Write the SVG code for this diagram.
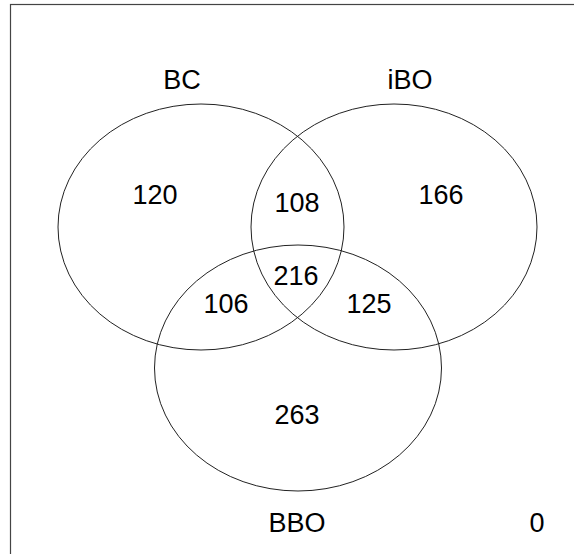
<svg xmlns="http://www.w3.org/2000/svg" width="574" height="554" viewBox="0 0 574 554">
<style>
.set{fill:none;stroke:#222;stroke-width:1}
.t{font-family:"Liberation Sans",Arial,sans-serif;font-size:27px;fill:#000;text-anchor:middle}
</style>
<rect width="574" height="554" fill="#fff"/>
<rect x="10.5" y="4.5" width="700" height="700" fill="none" stroke="#444" stroke-width="1.2"/>
<g id="BC"><ellipse class="set" cx="201" cy="227" rx="143" ry="123"/><text class="t" x="182" y="89">BC</text></g>
<g id="iBO"><ellipse class="set" cx="394" cy="227" rx="143" ry="123"/><text class="t" x="410" y="89">iBO</text></g>
<g id="BBO"><ellipse class="set" cx="298" cy="368" rx="143.5" ry="123"/><text class="t" x="297" y="532">BBO</text></g>
<g id="counts">
<text class="t" x="155" y="204">120</text>
<text class="t" x="297" y="212">108</text>
<text class="t" x="441" y="204">166</text>
<text class="t" x="296" y="285">216</text>
<text class="t" x="226" y="313">106</text>
<text class="t" x="369" y="313">125</text>
<text class="t" x="297" y="424">263</text>
<text class="t" x="537" y="532">0</text>
</g>
<g id="connectors"/>
</svg>
